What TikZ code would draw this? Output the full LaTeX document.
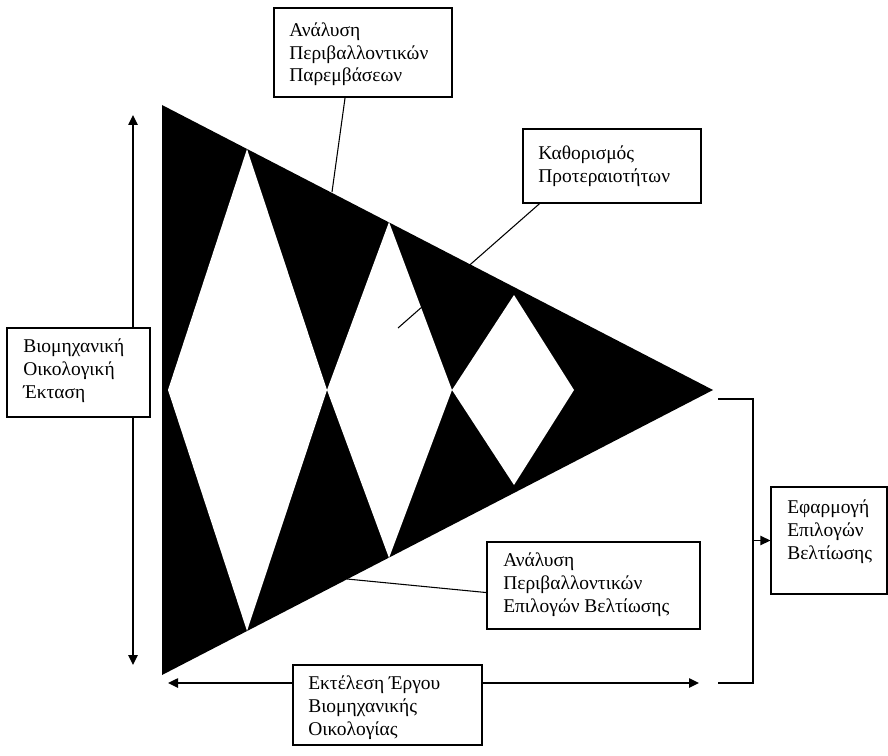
\documentclass[tikz,border=0pt]{standalone}
\usepackage{fontspec}
\setmainfont{Liberation Serif}
\usetikzlibrary{arrows.meta,calc,fit}
\begin{document}
\begin{tikzpicture}[x=0.75pt,y=-0.75pt,
  box/.style={draw=black,line width=0.9pt,fill=white,inner sep=0pt},
  % text blocks are placed by the baseline of their last line
  txt/.style={anchor=base west,align=left,inner sep=0pt,font=\fontsize{14.6}{17.1}\selectfont},
  lead/.style={draw=black,line width=0.8pt},
  arr/.style={draw=black,line width=1.1pt,-{Triangle[length=7.5pt,width=7pt]}},
  darr/.style={draw=black,line width=1.1pt,{Triangle[length=7.5pt,width=7pt]}-{Triangle[length=7.5pt,width=7pt]}}]
\useasboundingbox (0,0) rectangle (888,756);

% black triangle with white diamonds
\fill[black] (162,105) -- (713,390) -- (162,675) -- cycle;
\fill[white] (247,149) -- (327,390) -- (247,631) -- (168,390) -- cycle;
\fill[white] (389,222) -- (452,390) -- (389,558) -- (327,390) -- cycle;
\fill[white] (514,295) -- (574,390) -- (514,485) -- (452,390) -- cycle;

% extent arrows (boxes are laid over them)
\coordinate (vt) at (133,115);
\coordinate (vb) at (133,665);
\draw[darr] (vt) -- (vb);

% boxes
\node[box,fit={(274,8) (452,97)}] (T) {};
\node[txt] at (289,82) {Ανάλυση\\Περιβαλλοντικών\\Παρεμβάσεων};

\node[box,fit={(523,129) (701,203)}] (K) {};
\node[txt] at (538,182) {Καθορισμός\\Προτεραιοτήτων};

\node[box,fit={(7,328) (150,417)}] (L) {};
\node[txt] at (23,398) {Βιομηχανική\\Οικολογική\\Έκταση};

\node[box,fit={(487,542) (700,629)}] (A) {};
\node[txt] at (503,612) {Ανάλυση\\Περιβαλλοντικών\\Επιλογών Βελτίωσης};

\node[box,fit={(771,487) (887,594)}] (E) {};
\node[txt] at (787,559) {Εφαρμογή\\Επιλογών\\Βελτίωσης};

\node[box,fit={(293,665) (482,745)}] (X) {};
\node[txt] at (308,735) {Εκτέλεση Έργου\\Βιομηχανικής\\Οικολογίας};

% leader lines from the boxes to the triangle
\coordinate (pT) at (332,192);
\coordinate (pK) at (398,328);
\coordinate (pA) at (347,579);
\draw[lead] ($(T.south west)!0.4!(T.south east)$) -- (pT);
\draw[lead] ($(K.south west)!0.096!(K.south east)$) -- (pK);
\draw[lead] ($(A.north west)!0.58!(A.south west)$) -- (pA);

% horizontal extent arrow
\coordinate (hl) at (168,683);
\coordinate (hr) at (699,683);
\draw[arr] (X.west |- hl) -- (hl);
\draw[arr] (X.east |- hr) -- (hr);

% bracket leading to the final box
\coordinate (b1) at (718,399);
\coordinate (b2) at (753,399);
\coordinate (b3) at (753,683);
\coordinate (b4) at (718,683);
\draw[line width=0.9pt] (b1) -- (b2) -- (b3) -- (b4);
\draw[arr] (E.west -| b2) -- (E.west);
\end{tikzpicture}
\end{document}
